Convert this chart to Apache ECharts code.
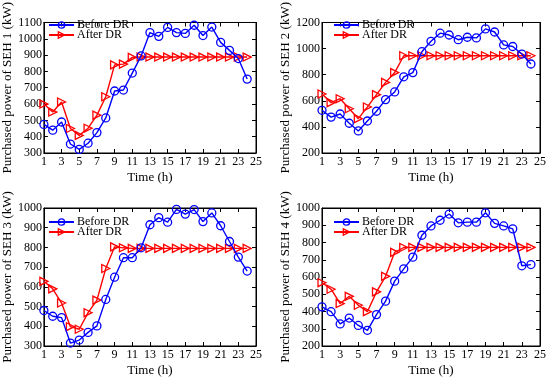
<!DOCTYPE html>
<html><head><meta charset="utf-8">
<script src="https://cdn.jsdelivr.net/npm/echarts@6/dist/echarts.min.js"></script>
<style>html,body{margin:0;padding:0;background:#fff}#c{width:550px;height:378px}</style>
</head><body><div id="c"></div>
<script>
var hours = [1,2,3,4,5,6,7,8,9,10,11,12,13,14,15,16,17,18,19,20,21,22,23,24];
var before1 = [475,440,490,355,322,360,425,515,680,686,790,895,1038,1015,1070,1038,1033,1083,1020,1072,978,929,879,753];
var after1  = [600,551,613,450,408,452,532,645,840,845,886,888,888,888,888,888,888,888,888,888,888,888,888,888];
var before2 = [527,475,499,428,369,445,520,609,668,784,816,976,1056,1118,1104,1068,1087,1082,1151,1127,1028,1016,958,882];
var after2  = [652,586,616,539,463,553,647,741,816,945,945,945,945,945,945,945,945,945,945,945,945,945,945,945];
var before3 = [480,451,444,315,330,369,402,536,649,748,748,798,915,951,928,993,969,992,931,975,910,830,751,680];
var after3  = [628,590,518,398,385,469,533,693,803,798,795,795,795,795,795,795,795,795,795,795,795,795,795,795];
var before4 = [427,399,328,362,319,291,382,460,576,647,715,842,896,929,965,914,918,918,972,911,896,879,665,672];
var after4  = [567,529,446,488,436,399,514,604,743,771,772,772,772,772,772,772,772,772,772,772,772,772,772,772];
var yTitles = ["Purchased power of SEH 1 (kW)","Purchased power of SEH 2 (kW)","Purchased power of SEH 3 (kW)","Purchased power of SEH 4 (kW)"];
var yMin = [300,200,300,200];
var yMax = [1100,1200,1000,1000];
var yStep = [100,200,100,100];
var xTitle = "Time (h)";
var xMin = 1, xMax = 25, xStep = 2;
var seriesNames = ["Before DR","After DR"];
var colors = ['#0000ff','#ff0000'];

var beforeAll = [before1,before2,before3,before4];
var afterAll = [after1,after2,after3,after4];
var FONT = "Liberation Serif";
var grids = [
  {left:37, top:11, width:219, height:142},
  {left:322, top:11, width:218, height:142},
  {left:37, top:208, width:219, height:143},
  {left:322, top:208, width:218, height:143}
];
var opt = {animation:false, textStyle:{fontFamily:FONT}, grid:[], xAxis:[], yAxis:[], series:[], legend:[]};
function pairs(arr){return hours.map(function(h,i){return [h,arr[i]];});}
function plain(v){return String(v);}
var hollow = function(c){return {color:'rgba(0,0,0,0)', borderColor:c, borderWidth:1.3};};
for (var g=0; g<4; g++){
  opt.grid.push(Object.assign({show:true, borderColor:'#000', borderWidth:1, backgroundColor:'#fff'}, grids[g]));
  var common = {gridIndex:g, type:'value', axisLine:{show:true, lineStyle:{color:'#000',width:1}},
    axisTick:{show:true, inside:true, length:4, lineStyle:{color:'#000'}}, splitLine:{show:false}};
  opt.xAxis.push(Object.assign({}, common, {position:'bottom', min:xMin, max:xMax, interval:xStep,
    name:xTitle, nameLocation:'middle', nameGap:18, nameTextStyle:{fontFamily:FONT, fontSize:13, color:'#000'},
    axisLabel:{fontFamily:FONT, fontSize:12, color:'#000', margin:3, formatter:plain}}));
  opt.xAxis.push(Object.assign({}, common, {position:'top', min:xMin, max:xMax, interval:xStep, axisLabel:{show:false}}));
  opt.yAxis.push(Object.assign({}, common, {position:'left', min:yMin[g], max:yMax[g], interval:yStep[g],
    name:yTitles[g], nameLocation:'middle', nameGap:26, nameTextStyle:{fontFamily:FONT, fontSize:13, color:'#000'},
    axisLabel:{fontFamily:FONT, fontSize:12, color:'#000', margin:2, formatter:plain}}));
  opt.yAxis.push(Object.assign({}, common, {position:'right', min:yMin[g], max:yMax[g], interval:yStep[g], axisLabel:{show:false}}));
  opt.series.push({name:seriesNames[0], type:'line', xAxisIndex:2*g, yAxisIndex:2*g, data:pairs(beforeAll[g]),
    symbol:'circle', symbolSize:8, showAllSymbol:true,
    lineStyle:{color:colors[0], width:1.4}, itemStyle:hollow(colors[0]), z:3});
  opt.series.push({name:seriesNames[1], type:'line', xAxisIndex:2*g, yAxisIndex:2*g, data:pairs(afterAll[g]),
    symbol:'triangle', symbolRotate:-90, symbolSize:8, showAllSymbol:true,
    lineStyle:{color:colors[1], width:1.4}, itemStyle:hollow(colors[1]), z:2});
  opt.legend.push({left:grids[g].left+6, top:grids[g].top+3, orient:'vertical', itemGap:-2, itemWidth:25, itemHeight:8,
    textStyle:{fontFamily:FONT, fontSize:12, color:'#000', padding:[0,0,0,-2], lineHeight:12},
    data:[{name:seriesNames[0], itemStyle:hollow(colors[0])},
          {name:seriesNames[1], itemStyle:hollow(colors[1])}],
    selectedMode:false});
}
var chart = echarts.init(document.getElementById('c'), null, {renderer:'canvas'});
chart.setOption(opt);
</script></body></html>
